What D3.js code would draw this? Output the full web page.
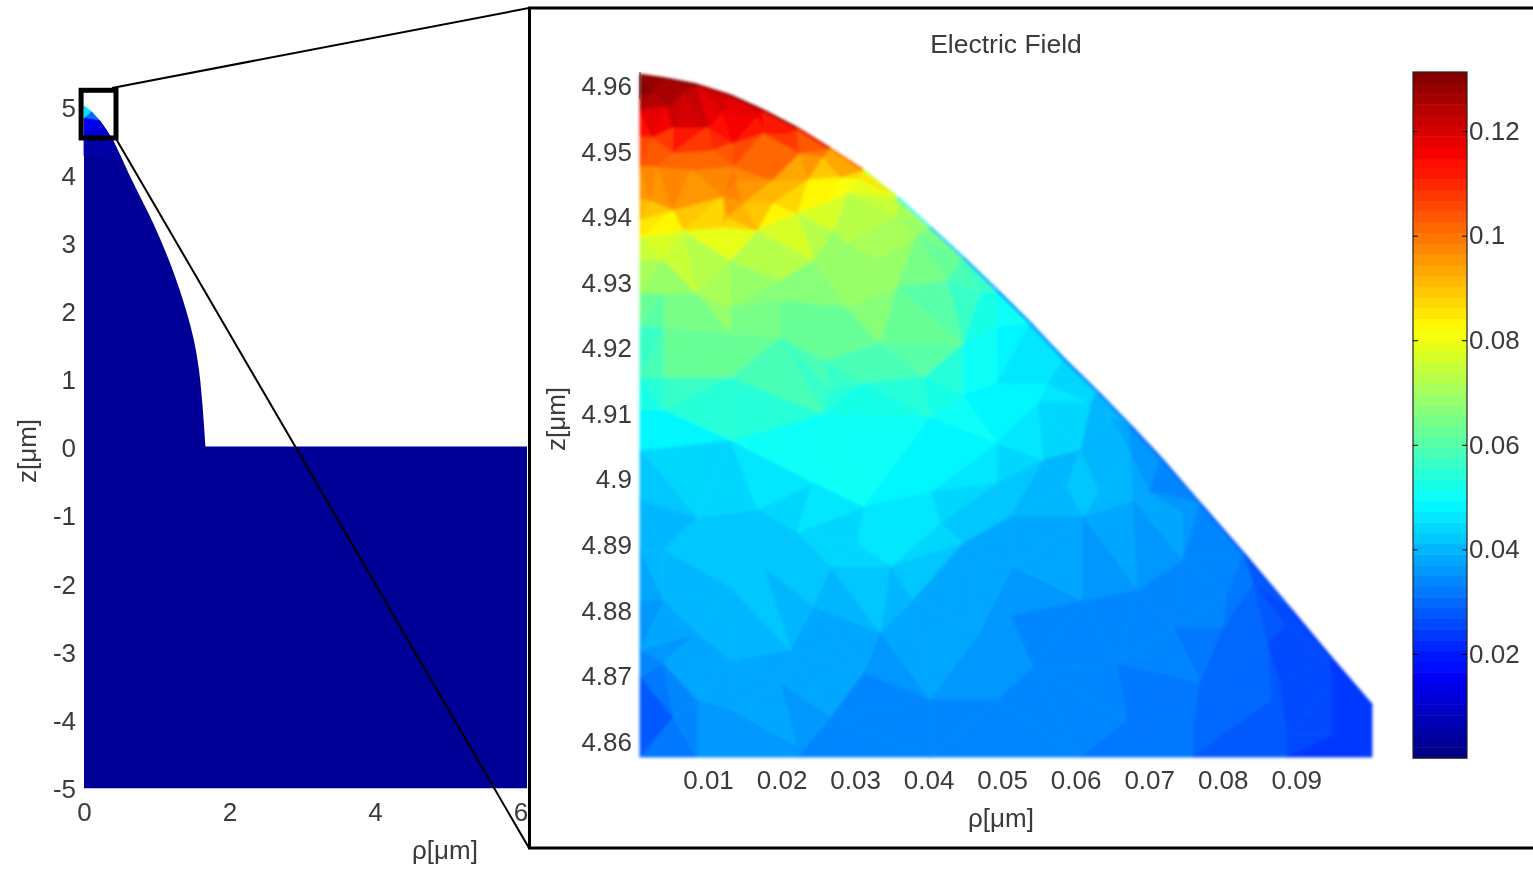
<!DOCTYPE html>
<html>
<head>
<meta charset="utf-8">
<script src="https://cdnjs.cloudflare.com/ajax/libs/d3/7.8.5/d3.min.js"></script>
<style>
  body { margin: 0; background: #fff; }
  svg { display: block; }
  text { font-family: "Liberation Sans", Arial, sans-serif; font-size: 26px; fill: #3a3a3a; }
</style>
</head>
<body>
<div id="chart"></div>
<script>
// tick labels
var leftRhoTicks = [0, 2, 4, 6]
var leftZTicks = [-5, -4, -3, -2, -1, 0, 1, 2, 3, 4, 5]
var rhoTicks = [0.01, 0.02, 0.03, 0.04, 0.05, 0.06, 0.07, 0.08, 0.09]
var zTicks = [4.86, 4.87, 4.88, 4.89, 4.9, 4.91, 4.92, 4.93, 4.94, 4.95, 4.96]
var barTicks = [0.02, 0.04, 0.06, 0.08, 0.1, 0.12]

// full geometry (left plot), curved side of the tip then the straight block, in um
var arcRho = [0, 0.22, 0.40, 0.66, 0.95, 1.18, 1.36, 1.50, 1.58, 1.63, 1.67]
var arcZ = [5.03, 4.81, 4.52, 3.94, 3.31, 2.73, 2.18, 1.64, 1.16, 0.62, 0.03]
var blockRho = [6.09, 6.09, 0]
var blockZ = [0.03, -4.99, -4.99]
var outlineE = 0.003
// field near the tip of the left plot
var tipRho = [0, 0.10, 0, 0.22, 0, 0.40, 0, 0.50]
var tipZ = [5.03, 4.95, 4.85, 4.81, 4.6, 4.52, 4.3, 4.25]
var tipE = [0.07, 0.05, 0.02, 0.02, 0.008, 0.007, 0.003, 0.003]
var zoomBoxRho = [-0.04, 0.44]
var zoomBoxZ = [5.26, 4.56]

// zoomed tip, top and slanted boundary nodes
var topRho = [0.00075, 0.0039, 0.0085, 0.0130, 0.0175, 0.0221, 0.0266, 0.0311, 0.0357, 0.0402, 0.0447, 0.0493, 0.0538, 0.0583, 0.0629, 0.0674, 0.0715, 0.0769, 0.0828, 0.0892, 0.0946, 0.1003]
var topZ = [4.9617, 4.9612, 4.9602, 4.9586, 4.9563, 4.9536, 4.9505, 4.9472, 4.9431, 4.9385, 4.9339, 4.9289, 4.9239, 4.9185, 4.9135, 4.9083, 4.9034, 4.8964, 4.8888, 4.8803, 4.8730, 4.8656]
var topE = [0.128, 0.128, 0.123, 0.12, 0.115, 0.11, 0.103, 0.096, 0.076, 0.066, 0.06, 0.054, 0.047, 0.045, 0.041, 0.037, 0.035, 0.034, 0.031, 0.026, 0.024, 0.023]
// darker fringe that runs along the boundary
var fringeE = [0.131, 0.131, 0.131, 0.13, 0.13, 0.128, 0.112, 0.088, 0.06, 0.046, 0.04, 0.035, 0.033, 0.033, 0.032, 0.03, 0.03, 0.028, 0.026, 0.024, 0.023, 0.023]

// axis side nodes
var sideZ = [4.9589, 4.9563, 4.9522, 4.9477, 4.9426, 4.9396, 4.9370, 4.9335, 4.9284, 4.9233, 4.9156, 4.9106, 4.9045, 4.8969, 4.8893, 4.8816, 4.8740, 4.8699, 4.8638]
var sideE = [0.13, 0.12, 0.11, 0.1, 0.093, 0.085, 0.079, 0.074, 0.066, 0.058, 0.054, 0.049, 0.045, 0.041, 0.039, 0.037, 0.034, 0.03, 0.026]

// bottom nodes
var bottomRho = [0.00075, 0.0085, 0.0221, 0.0402, 0.0606, 0.0760, 0.0888, 0.1003]
var bottomE = [0.03, 0.036, 0.035, 0.034, 0.032, 0.031, 0.026, 0.023]

// interior nodes
var innerRho = [0.0025, 0.0066, 0.0044, 0.0099, 0.0052, 0.0025, 0.0120, 0.0167, 0.0175, 0.0212, 0.0107, 0.0134, 0.0052, 0.0134, 0.0139, 0.0076, 0.0031, 0.0120, 0.0148, 0.0126, 0.0120, 0.0052, 0.0021, 0.0188, 0.0188, 0.0225, 0.0256, 0.0235, 0.0280, 0.0221, 0.0262, 0.0289, 0.0303, 0.0066, 0.0167, 0.0270, 0.0039, 0.0130, 0.0198, 0.0243, 0.0334, 0.0289, 0.0357, 0.0384, 0.0039, 0.0085, 0.0130, 0.0198, 0.0289, 0.0357, 0.0425, 0.0470, 0.0039, 0.0130, 0.0198, 0.0256, 0.0334, 0.0393, 0.0447, 0.0493, 0.0039, 0.0130, 0.0266, 0.0311, 0.0447, 0.0493, 0.0561, 0.0039, 0.0256, 0.0130, 0.0402, 0.0548, 0.0493, 0.0620, 0.0606, 0.0674, 0.0243, 0.0402, 0.0493, 0.0311, 0.0416, 0.0303, 0.0379, 0.0221, 0.0167, 0.0085, 0.0039, 0.0175, 0.0266, 0.0348, 0.0447, 0.0515, 0.0130, 0.0039, 0.0243, 0.0212, 0.0085, 0.0334, 0.0470, 0.0497, 0.0311, 0.0130, 0.0198, 0.0039, 0.0052, 0.0024, 0.0085, 0.0130, 0.0221, 0.0266, 0.0402, 0.0493, 0.0556, 0.0633, 0.0647, 0.0588, 0.0511, 0.0701, 0.0610, 0.0678, 0.0746, 0.0610, 0.0656, 0.0733, 0.0684, 0.0746, 0.0806, 0.0842, 0.0861, 0.0885, 0.0878, 0.0769, 0.0801, 0.0865, 0.0950, 0.0950, 0.0888, 0.0760, 0.0542, 0.0511, 0.0814, 0.0670]
var innerZ = [4.9589, 4.9589, 4.9568, 4.9537, 4.9537, 4.9522, 4.9559, 4.9553, 4.9528, 4.9528, 4.9502, 4.9513, 4.9498, 4.9477, 4.9457, 4.9472, 4.9477, 4.9431, 4.9422, 4.9400, 4.9385, 4.9411, 4.9426, 4.9457, 4.9422, 4.9498, 4.9492, 4.9457, 4.9461, 4.9406, 4.9422, 4.9437, 4.9460, 4.9380, 4.9380, 4.9380, 4.9335, 4.9335, 4.9304, 4.9335, 4.9335, 4.9361, 4.9403, 4.9373, 4.9284, 4.9284, 4.9263, 4.9274, 4.9263, 4.9294, 4.9304, 4.9284, 4.9233, 4.9223, 4.9217, 4.9182, 4.9208, 4.9156, 4.9208, 4.9233, 4.9156, 4.9156, 4.9141, 4.9147, 4.9129, 4.9147, 4.9147, 4.9106, 4.9101, 4.9060, 4.9095, 4.9117, 4.9056, 4.9117, 4.9045, 4.9045, 4.8995, 4.8981, 4.8995, 4.8958, 4.8934, 4.8903, 4.8816, 4.8919, 4.8954, 4.8943, 4.8893, 4.8867, 4.8867, 4.8867, 4.8903, 4.8867, 4.8836, 4.8816, 4.8806, 4.8740, 4.8766, 4.8766, 4.8766, 4.8725, 4.8705, 4.8725, 4.8690, 4.8720, 4.8638, 4.8638, 4.8664, 4.8649, 4.8592, 4.8638, 4.8664, 4.8664, 4.9030, 4.8981, 4.9095, 4.8989, 4.8943, 4.8981, 4.8943, 4.8969, 4.8949, 4.8816, 4.8720, 4.8775, 4.8832, 4.8877, 4.8827, 4.8842, 4.8751, 4.8778, 4.8690, 4.8690, 4.8775, 4.8664, 4.8690, 4.8611, 4.8611, 4.8618, 4.8714, 4.8791, 4.8623, 4.8633]
var innerE = [0.13, 0.128, 0.123, 0.117, 0.113, 0.11, 0.117, 0.12, 0.11, 0.112, 0.105, 0.108, 0.103, 0.1, 0.1, 0.099, 0.1, 0.096, 0.096, 0.093, 0.086, 0.091, 0.093, 0.093, 0.088, 0.1, 0.096, 0.09, 0.083, 0.081, 0.079, 0.079, 0.083, 0.08, 0.082, 0.07, 0.074, 0.072, 0.066, 0.07, 0.073, 0.068, 0.072, 0.066, 0.066, 0.068, 0.07, 0.063, 0.067, 0.066, 0.06, 0.054, 0.059, 0.066, 0.06, 0.058, 0.065, 0.058, 0.056, 0.05, 0.06, 0.06, 0.056, 0.054, 0.05, 0.046, 0.047, 0.052, 0.054, 0.049, 0.05, 0.05, 0.049, 0.042, 0.041, 0.037, 0.049, 0.045, 0.044, 0.047, 0.045, 0.044, 0.039, 0.044, 0.042, 0.041, 0.04, 0.042, 0.042, 0.046, 0.04, 0.037, 0.043, 0.039, 0.04, 0.041, 0.04, 0.038, 0.038, 0.037, 0.035, 0.037, 0.037, 0.035, 0.03, 0.026, 0.037, 0.037, 0.037, 0.035, 0.034, 0.034, 0.04, 0.042, 0.04, 0.042, 0.04, 0.035, 0.04, 0.039, 0.037, 0.034, 0.035, 0.034, 0.035, 0.035, 0.034, 0.028, 0.028, 0.026, 0.026, 0.031, 0.032, 0.029, 0.025, 0.024, 0.027, 0.031, 0.035, 0.035, 0.028, 0.032]

var svg = d3.select("#chart").append("svg")
  .attr("width", 1533)
  .attr("height", 869)

var defs = svg.append("defs")
defs.append("filter").attr("id", "soft").append("feGaussianBlur").attr("stdDeviation", 1.5)
defs.append("filter").attr("id", "softBar").append("feGaussianBlur").attr("stdDeviation", 0.6)
defs.append("filter").attr("id", "softText").append("feGaussianBlur").attr("stdDeviation", 0.35)

// matlab jet colormap, 64 levels
function jet(t) {
  var c = v => Math.round(255 * Math.max(0, Math.min(1, v)))
  return d3.rgb(c(Math.min(4 * t - 1.5, -4 * t + 4.5)), c(Math.min(4 * t - 0.5, -4 * t + 3.5)), c(Math.min(4 * t + 0.5, -4 * t + 2.5))) + ""
}
var levels = d3.range(64).map(i => jet((i + 0.5) / 64))
var color = d3.scaleQuantize().domain([0.0001, 0.1313]).range(levels)

// draw the triangles of a delaunay mesh, flat colour = mean of the corners
function drawMesh(g, rho, z, e, xs, ys) {
  var pts = rho.map((r, i) => [xs(r), ys(z[i])])
  var tri = d3.Delaunay.from(pts).triangles
  for (var i = 0; i < tri.length; i += 3) {
    var a = tri[i], b = tri[i + 1], c = tri[i + 2]
    var col = color((e[a] + e[b] + e[c]) / 3)
    g.append("path")
      .attr("d", "M" + pts[a] + "L" + pts[b] + "L" + pts[c] + "Z")
      .attr("fill", col)
      .attr("stroke", col)
      .attr("stroke-width", 0.8)
  }
}

function styleAxis(g) {
  g.select(".domain").remove()
  g.selectAll("text").attr("filter", "url(#softText)")
}

// Left plot
var leftX = d3.scaleLinear().domain([0, 6.09]).range([84, 527])
var leftY = d3.scaleLinear().domain([-5, 5]).range([789, 108])

var arcLine = d3.line().curve(d3.curveCatmullRom).x((d, i) => leftX(arcRho[i])).y((d, i) => leftY(arcZ[i]))
var blockPath = blockRho.map((r, i) => "L" + leftX(r) + "," + leftY(blockZ[i])).join("")
svg.append("path")
  .attr("d", arcLine(arcRho) + blockPath + "Z")
  .attr("fill", color(outlineE))

drawMesh(svg.append("g").attr("filter", "url(#softBar)"), tipRho, tipZ, tipE, leftX, leftY)

svg.append("g")
  .attr("transform", "translate(" + leftX(0) + ",0)")
  .call(d3.axisLeft(leftY).tickValues(leftZTicks).tickSize(0).tickPadding(8).tickFormat(d => String(d)))
  .call(styleAxis)
svg.append("g")
  .attr("transform", "translate(0," + leftY(-5) + ")")
  .call(d3.axisBottom(leftX).tickValues(leftRhoTicks).tickSize(0).tickPadding(14).tickFormat(d => String(d)))
  .call(styleAxis)

svg.append("text").attr("x", 445).attr("y", 859).attr("text-anchor", "middle").attr("filter", "url(#softText)").text("ρ[μm]")
svg.append("text").attr("transform", "translate(36,451) rotate(-90)").attr("text-anchor", "middle").attr("filter", "url(#softText)").text("z[μm]")

// Zoom box and the two lines going to the inset
svg.append("rect")
  .attr("x", leftX(zoomBoxRho[0]))
  .attr("y", leftY(zoomBoxZ[0]))
  .attr("width", leftX(zoomBoxRho[1]) - leftX(zoomBoxRho[0]))
  .attr("height", leftY(zoomBoxZ[1]) - leftY(zoomBoxZ[0]))
  .attr("fill", "none")
  .attr("stroke", "#000")
  .attr("stroke-width", 5)
svg.append("line").attr("x1", 112).attr("y1", 88).attr("x2", 529).attr("y2", 8).attr("stroke", "#000").attr("stroke-width", 2)
svg.append("line").attr("x1", 115).attr("y1", 137).attr("x2", 529).attr("y2", 848).attr("stroke", "#000").attr("stroke-width", 2)

// Inset frame, runs off the right side of the page
svg.append("rect")
  .attr("x", 529.5).attr("y", 8)
  .attr("width", 1100).attr("height", 840)
  .attr("fill", "none")
  .attr("stroke", "#000")
  .attr("stroke-width", 3)

// Inset plot
var x = d3.scaleLinear().domain([0.00075, 0.1003]).range([640, 1372])
var y = d3.scaleLinear().domain([4.8577, 4.9617]).range([757, 75])

var meshRho = topRho.concat(sideZ.map(() => topRho[0]), bottomRho, innerRho)
var meshZ = topZ.concat(sideZ, bottomRho.map(() => 4.8577), innerZ)
var meshE = topE.concat(sideE, bottomE, innerE)

var mesh = svg.append("g").attr("filter", "url(#soft)")
drawMesh(mesh, meshRho, meshZ, meshE, x, y)

// boundary fringe
d3.range(topRho.length - 1).forEach(i => {
  mesh.append("line")
    .attr("x1", x(topRho[i])).attr("y1", y(topZ[i]))
    .attr("x2", x(topRho[i + 1])).attr("y2", y(topZ[i + 1]))
    .attr("stroke", color((fringeE[i] + fringeE[i + 1]) / 2))
    .attr("stroke-width", 2.5)
})

// little bit of axis line poking out at the top left
svg.append("line")
  .attr("x1", x(topRho[0])).attr("y1", 72)
  .attr("x2", x(topRho[0])).attr("y2", y(4.958))
  .attr("stroke", "#333")

svg.append("g")
  .attr("transform", "translate(640,0)")
  .call(d3.axisLeft(y).tickValues(zTicks).tickSize(0).tickPadding(8).tickFormat(d => String(d)))
  .call(styleAxis)
svg.append("g")
  .attr("transform", "translate(0,757)")
  .call(d3.axisBottom(x).tickValues(rhoTicks).tickSize(0).tickPadding(14).tickFormat(d => String(d)))
  .call(styleAxis)

svg.append("text").attr("x", 1006).attr("y", 53).attr("text-anchor", "middle").attr("filter", "url(#softText)").style("font-size", "26.5px").text("Electric Field")
svg.append("text").attr("x", 1001).attr("y", 827).attr("text-anchor", "middle").attr("filter", "url(#softText)").text("ρ[μm]")
svg.append("text").attr("transform", "translate(565,419) rotate(-90)").attr("text-anchor", "middle").attr("filter", "url(#softText)").text("z[μm]")

// Colorbar
var barY = d3.scaleLinear().domain([0.0001, 0.1313]).range([758, 72])
var barLeft = 1413, barRight = 1467
svg.append("g").attr("filter", "url(#softBar)").selectAll("rect")
  .data(levels)
  .enter()
  .append("rect")
  .attr("x", barLeft)
  .attr("width", barRight - barLeft)
  .attr("y", d => barY(color.invertExtent(d)[1]))
  .attr("height", d => barY(color.invertExtent(d)[0]) - barY(color.invertExtent(d)[1]) + 0.5)
  .attr("fill", d => d)
svg.append("rect")
  .attr("x", barLeft).attr("y", 72)
  .attr("width", barRight - barLeft).attr("height", 686)
  .attr("fill", "none").attr("stroke", "#222").attr("stroke-width", 1.2)
svg.append("g")
  .attr("transform", "translate(" + barRight + ",0)")
  .call(d3.axisRight(barY).tickValues(barTicks).tickSizeInner(-5).tickSizeOuter(0).tickPadding(2).tickFormat(d => String(d)))
  .call(styleAxis)
svg.append("g")
  .attr("transform", "translate(" + barLeft + ",0)")
  .call(d3.axisLeft(barY).tickValues(barTicks).tickSizeInner(-5).tickSizeOuter(0).tickFormat(""))
  .call(styleAxis)
</script>
</body>
</html>
